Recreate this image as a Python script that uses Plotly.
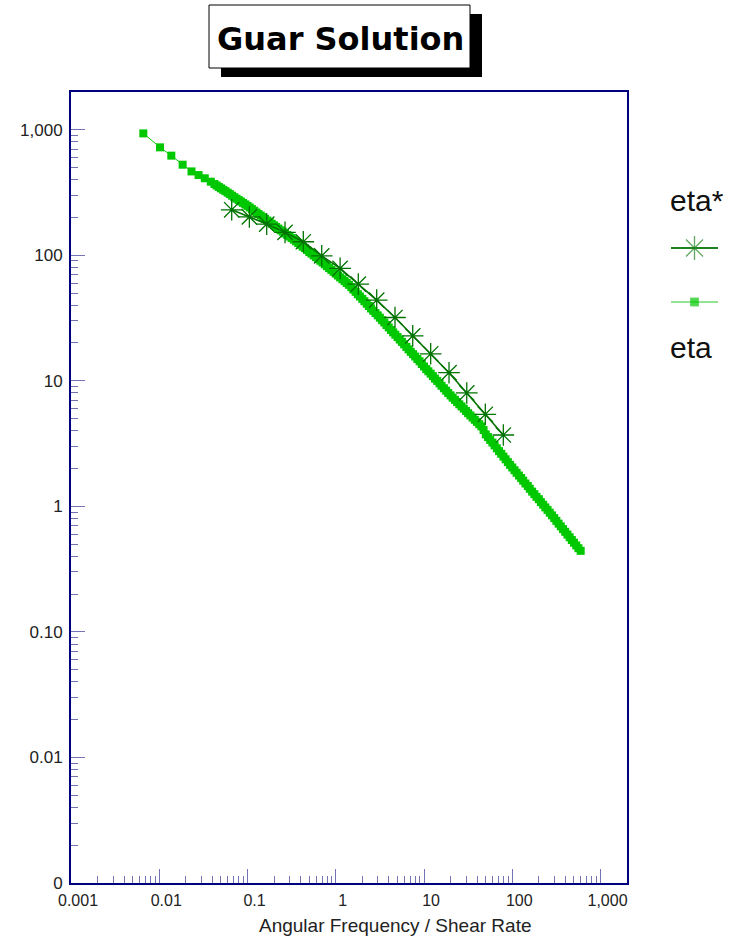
import plotly.graph_objects as go

# ---------------- data ----------------
# eta (steady shear viscosity) vs shear rate
eta_x = [0.0066, 0.0102, 0.0137, 0.0184, 0.0232, 0.0279, 0.0328, 0.0384,
         0.0422, 0.0447, 0.0473, 0.0501, 0.0531, 0.0562, 0.0596, 0.0631, 0.0668, 0.0708,
         0.0750, 0.0794, 0.0841, 0.0891, 0.0944,
         0.100, 0.106, 0.112, 0.119, 0.126, 0.133, 0.141, 0.150, 0.158, 0.168,
         0.178, 0.188, 0.200, 0.211, 0.224, 0.237, 0.251, 0.266, 0.282, 0.299,
         0.316, 0.335, 0.355, 0.376, 0.398, 0.422, 0.447, 0.473, 0.501, 0.531,
         0.562, 0.596, 0.631, 0.668, 0.708, 0.750, 0.794, 0.841, 0.891, 0.944,
         1.00, 1.06, 1.12, 1.19, 1.26, 1.33, 1.41, 1.50, 1.58, 1.68,
         1.78, 1.88, 2.00, 2.11, 2.24, 2.37, 2.51, 2.66, 2.82, 2.99,
         3.16, 3.35, 3.55, 3.76, 3.98, 4.22, 4.47, 4.73, 5.01, 5.31,
         5.62, 5.96, 6.31, 6.68, 7.08, 7.50, 7.94, 8.41, 8.91, 9.44,
         10.0, 10.6, 11.2, 11.9, 12.6, 13.3, 14.1, 15.0, 15.8, 16.8,
         17.8, 18.8, 20.0, 21.1, 22.4, 23.7, 25.1, 26.6, 28.2, 29.9,
         31.6, 33.5, 35.5, 37.6, 39.8, 42.2, 44.7, 47.3, 50.1, 53.1,
         56.2, 59.6, 63.1, 66.8, 70.8, 75.0, 79.4, 84.1, 89.1, 94.4,
         100, 106, 112, 119, 126, 133, 141, 150, 158, 168,
         178, 188, 200, 211, 224, 237, 251, 266, 282, 299,
         316, 335, 355, 376, 398, 422, 447, 473, 501, 531,
         562, 596]
eta_y = [934, 723, 621, 526, 465, 435, 410, 385,
         369, 359, 350, 341, 332, 324, 315, 307, 298, 290,
         282, 275, 268, 261, 254,
         247, 240, 233, 226, 219, 213, 207, 201, 195, 189,
         184, 178, 173, 168, 163, 158, 154, 149, 145, 141,
         137, 133, 129, 125, 121, 117, 114, 110, 106, 103,
         99.7, 96.5, 93.4, 90.4, 87.5, 84.6, 81.8, 79.0, 76.4, 73.8,
         71.3, 68.9, 66.6, 64.4, 62.2, 60.1, 58.1, 55.7, 53.3, 51.1,
         48.9, 46.9, 44.9, 43.0, 41.1, 39.4, 37.7, 36.1, 34.6, 33.2,
         31.8, 30.4, 29.1, 27.8, 26.6, 25.4, 24.3, 23.3, 22.3, 21.3,
         20.4, 19.5, 18.6, 17.8, 17.0, 16.3, 15.6, 14.9, 14.3, 13.6,
         13.0, 12.4, 11.9, 11.4, 10.9, 10.4, 9.98, 9.54, 9.12, 8.72,
         8.34, 7.99, 7.65, 7.34, 7.05, 6.77, 6.50, 6.25, 6.00, 5.75,
         5.52, 5.30, 5.09, 4.89, 4.70, 4.51, 4.33, 4.05, 3.74, 3.56,
         3.38, 3.22, 3.06, 2.90, 2.75, 2.62, 2.49, 2.37, 2.25, 2.14,
         2.04, 1.94, 1.85, 1.76, 1.68, 1.60, 1.52, 1.45, 1.38, 1.31,
         1.25, 1.19, 1.14, 1.08, 1.03, 0.981, 0.936, 0.890, 0.847, 0.806,
         0.766, 0.728, 0.693, 0.659, 0.627, 0.596, 0.567, 0.539, 0.513, 0.488,
         0.464, 0.442]

# eta* (complex viscosity) vs angular frequency
etas_x = [0.0662, 0.105, 0.165, 0.266, 0.429, 0.693, 1.12, 1.80,
          2.91, 4.69, 7.45, 11.9, 19.2, 30.5, 49.5, 79.2]
etas_y = [230, 202, 177, 152, 128, 98.9, 78.6, 58.9,
          43.9, 31.9, 22.8, 16.4, 11.6, 8.0, 5.41, 3.70]

tick_vals = [0.001, 0.01, 0.1, 1, 10, 100, 1000]
x_tick_text = ["0.001", "0.01", "0.1", "1", "10", "100", "1,000"]
y_tick_text = ["0", "0.01", "0.10", "1", "10", "100", "1,000"]
minor_vals = [m * 10 ** e for e in range(-3, 4) for m in range(2, 10)]

title_text = "Guar Solution"
x_title = "Angular Frequency / Shear Rate"
legend_names = ["eta*", "eta"]

# ---------------- styling ----------------
W, H = 740, 939
L, R, T, B = 71, 2, 92, 56
PW = W - L - R
PH = H - T - B


def px(X):
    """page pixel x -> paper coordinate"""
    return (X - L) / PW


def py(Y):
    """page pixel y -> paper coordinate"""
    return (H - B - Y) / PH


NAVY = "#00007f"
TICKC = "rgba(40,40,140,0.65)"
ETA_C = "rgb(0,200,0)"
ETAS_C = "rgb(0,115,0)"
FONT = "Liberation Sans, Arial, sans-serif"

fig = go.Figure()

fig.add_trace(go.Scatter(
    x=eta_x, y=eta_y, mode="lines+markers", name=legend_names[1],
    line=dict(color=ETA_C, width=1),
    marker=dict(symbol="square", size=8, color=ETA_C),
    showlegend=False))

fig.add_trace(go.Scatter(
    x=etas_x, y=etas_y, mode="lines+markers", name=legend_names[0],
    line=dict(color=ETAS_C, width=1.6),
    marker=dict(symbol="asterisk-open", size=18,
                line=dict(color="rgb(20,135,20)", width=1.3)),
    showlegend=False))

# legend samples on a small hidden axis pair
fig.add_trace(go.Scatter(
    x=[0, 0.5, 1], y=[0.8, 0.8, 0.8], mode="lines+markers",
    xaxis="x2", yaxis="y2", showlegend=False, hoverinfo="skip",
    line=dict(color="rgb(30,130,30)", width=2.2),
    marker=dict(symbol="asterisk-open", size=[0, 20, 0],
                line=dict(color="rgb(20,135,20)", width=1.3))))
fig.add_trace(go.Scatter(
    x=[0, 0.5, 1], y=[0.2, 0.2, 0.2], mode="lines+markers",
    xaxis="x2", yaxis="y2", showlegend=False, hoverinfo="skip",
    line=dict(color="rgb(40,200,40)", width=1),
    marker=dict(symbol="square", size=[0, 8, 0], color=ETA_C)))

axis_common = dict(
    type="log", showline=True, linecolor=NAVY, linewidth=2, mirror=True,
    ticks="inside", ticklen=14, tickwidth=1, tickcolor=TICKC,
    showgrid=False, zeroline=False,
    tickmode="array", tickvals=tick_vals,
    minor=dict(ticks="inside", ticklen=7, tickwidth=1, tickcolor=TICKC,
               tickmode="array", tickvals=minor_vals, showgrid=False),
)

fig.update_layout(
    width=W, height=H, margin=dict(l=L, r=R, t=T, b=B),
    paper_bgcolor="white", plot_bgcolor="white",
    showlegend=False,
    xaxis=dict(axis_common, domain=[0, 556 / PW], range=[-3, 3.3],
               ticktext=x_tick_text, ticklabelstandoff=2, ticklabelshift=7,
               tickfont=dict(family=FONT, size=16, color="#222")),
    yaxis=dict(axis_common, range=[-3, 3.3], ticktext=y_tick_text,
               ticklabelstandoff=3,
               tickfont=dict(family=FONT, size=17, color="#222")),
    xaxis2=dict(domain=[px(671), px(718)], range=[0, 1], visible=False,
                anchor="y2", fixedrange=True),
    yaxis2=dict(domain=[py(320), py(230)], range=[0, 1], visible=False,
                anchor="x2", fixedrange=True),
)

# title box with drop shadow
fig.add_shape(type="rect", xref="paper", yref="paper",
              x0=px(221), x1=px(482), y0=py(77), y1=py(14),
              fillcolor="black", line=dict(width=0), layer="above")
fig.add_shape(type="rect", xref="paper", yref="paper",
              x0=px(209), x1=px(470), y0=py(68), y1=py(5),
              fillcolor="white", line=dict(color="black", width=1), layer="above")
fig.add_annotation(text="<b>%s</b>" % title_text, xref="paper", yref="paper",
                   x=px(340), y=py(39), xanchor="center", yanchor="middle",
                   showarrow=False,
                   font=dict(family="DejaVu Sans", size=32, color="black"))

# x-axis title
fig.add_annotation(text=x_title, xref="paper", yref="paper",
                   x=px(395), y=py(925), xanchor="center", yanchor="middle",
                   showarrow=False, font=dict(family=FONT, size=19, color="#222"))

# legend labels
fig.add_annotation(text=legend_names[0], xref="paper", yref="paper",
                   x=px(668), y=py(201), xanchor="left", yanchor="middle",
                   showarrow=False, font=dict(family=FONT, size=30, color="#111"))
fig.add_annotation(text=legend_names[1], xref="paper", yref="paper",
                   x=px(668), y=py(347), xanchor="left", yanchor="middle",
                   showarrow=False, font=dict(family=FONT, size=30, color="#111"))

fig.write_html("out.html",
               config={"displayModeBar": False},
               post_script="document.body.style.margin='0px';"
                           "document.body.style.overflow='hidden';")
